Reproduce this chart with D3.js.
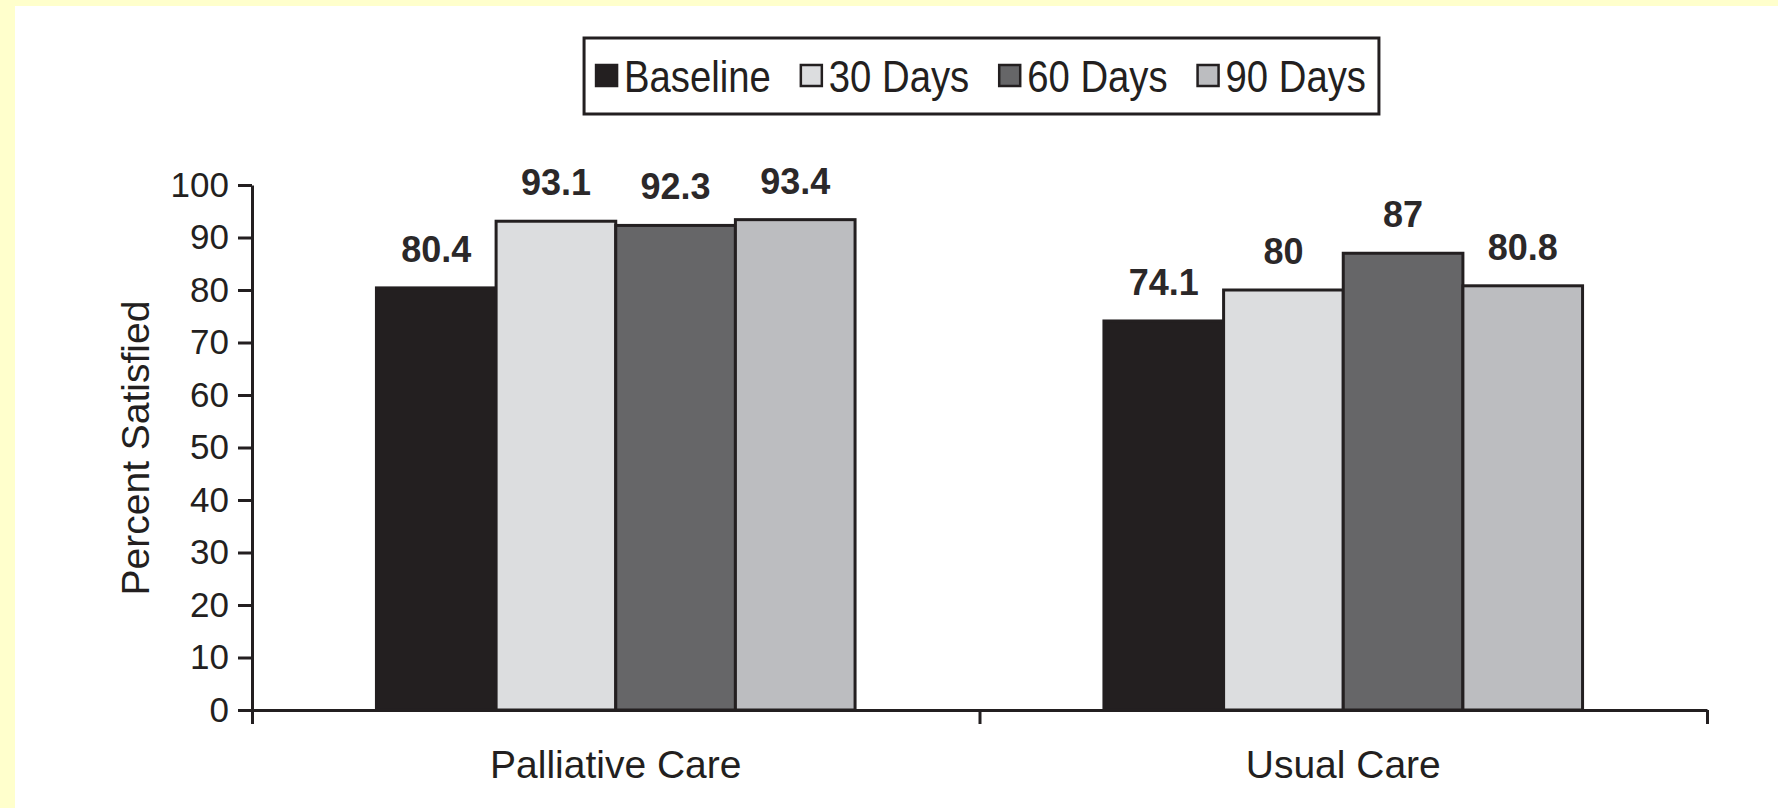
<!DOCTYPE html>
<html>
<head>
<meta charset="utf-8">
<script src="https://cdn.jsdelivr.net/npm/d3@7"></script>
<style>
  html, body { margin: 0; padding: 0; background: #ffffcc; }
  svg { display: block; }
  text { font-family: "Liberation Sans", Arial, Helvetica, sans-serif; fill: #231f20; }
</style>
</head>
<body>
<div id="chart"></div>
<script>
// Chart data
var GROUPS = ['Palliative Care', 'Usual Care'];
var SERIES = ['Baseline', '30 Days', '60 Days', '90 Days'];
var BASELINE = [80.4, 74.1];
var DAYS_30 = [93.1, 80];
var DAYS_60 = [92.3, 87];
var DAYS_90 = [93.4, 80.8];
var Y_TICKS = [0, 10, 20, 30, 40, 50, 60, 70, 80, 90, 100];

var SERIES_VALUES = [BASELINE, DAYS_30, DAYS_60, DAYS_90];
var COLORS = ['#231f20', '#dcdddf', '#666668', '#bcbdc0'];

var WIDTH = 1778, HEIGHT = 808;
var PLOT = { left: 252, right: 1707, top: 185, bottom: 710 };

var svg = d3.select('#chart').append('svg')
  .attr('width', WIDTH)
  .attr('height', HEIGHT);

// White page inside the yellow frame
svg.append('rect')
  .attr('x', 15).attr('y', 6)
  .attr('width', WIDTH - 15).attr('height', HEIGHT - 6)
  .attr('fill', '#ffffff');

var x0 = d3.scaleBand()
  .domain(GROUPS)
  .range([PLOT.left, PLOT.right])
  .padding(0);

var x1 = d3.scaleBand()
  .domain(SERIES)
  .range([0, x0.bandwidth()])
  .paddingInner(0)
  .paddingOuter(1.04);

var y = d3.scaleLinear()
  .domain([0, 100])
  .range([PLOT.bottom, PLOT.top]);

// Rows of the grouped data
var rows = [];
GROUPS.forEach(function(g, gi) {
  SERIES.forEach(function(s, si) {
    rows.push({ group: g, series: s, index: si, value: SERIES_VALUES[si][gi] });
  });
});

// Bars
svg.append('g').selectAll('rect')
  .data(rows)
  .join('rect')
  .attr('x', function(d) { return x0(d.group) + x1(d.series); })
  .attr('y', function(d) { return y(d.value); })
  .attr('width', x1.bandwidth())
  .attr('height', function(d) { return y(0) - y(d.value); })
  .attr('fill', function(d) { return COLORS[d.index]; })
  .attr('stroke', '#231f20')
  .attr('stroke-width', 3);

// Value labels
svg.append('g').selectAll('text')
  .data(rows)
  .join('text')
  .attr('x', function(d) { return x0(d.group) + x1(d.series) + x1.bandwidth() / 2; })
  .attr('y', function(d) { return y(d.value) - 26; })
  .attr('text-anchor', 'middle')
  .style('font-size', '36px')
  .style('font-weight', 'bold')
  .style('fill', '#2b2829')
  .text(function(d) { return d.value; });

// Y axis
var yAxis = svg.append('g')
  .attr('transform', 'translate(' + PLOT.left + ',0)')
  .call(d3.axisLeft(y).tickValues(Y_TICKS).tickSize(14).tickSizeOuter(0).tickPadding(9));
yAxis.select('.domain').attr('stroke', '#231f20').attr('stroke-width', 3);
yAxis.selectAll('.tick line').attr('stroke', '#231f20').attr('stroke-width', 3);
yAxis.selectAll('.tick text')
  .style('font-size', '35px')
  .style('fill', '#231f20')
  .attr('font-family', null);

// X axis with ticks at group boundaries
var xEdges = d3.scaleLinear().domain([0, GROUPS.length]).range([PLOT.left, PLOT.right]);
var xAxis = svg.append('g')
  .attr('transform', 'translate(0,' + PLOT.bottom + ')')
  .call(d3.axisBottom(xEdges).tickValues(d3.range(GROUPS.length + 1))
    .tickSize(14).tickSizeOuter(0).tickFormat(''));
xAxis.select('.domain').attr('stroke', '#231f20').attr('stroke-width', 3);
xAxis.selectAll('.tick line').attr('stroke', '#231f20').attr('stroke-width', 3);

// Category labels
var xLabels = svg.append('g')
  .attr('transform', 'translate(0,' + PLOT.bottom + ')')
  .call(d3.axisBottom(x0).tickSize(0).tickPadding(40));
xLabels.select('.domain').remove();
xLabels.selectAll('.tick text')
  .style('font-size', '39px')
  .style('fill', '#231f20')
  .attr('font-family', null);

// Y axis title
svg.append('text')
  .attr('transform', 'translate(149,448) rotate(-90)')
  .attr('text-anchor', 'middle')
  .style('font-size', '39px')
  .text('Percent Satisfied');

// Legend (condensed type, as in the original)
var LEGEND_SQUEEZE = 0.87;
var LEGEND_GAP = 30;
var legend = svg.append('g');
var items = legend.selectAll('g')
  .data(SERIES)
  .join('g');
items.append('rect')
  .attr('width', 21).attr('height', 21)
  .attr('y', -11)
  .attr('fill', function(d, i) { return COLORS[i]; })
  .attr('stroke', '#231f20')
  .attr('stroke-width', 2.5);
items.append('text')
  .attr('transform', 'translate(28,16) scale(' + LEGEND_SQUEEZE + ',1)')
  .style('font-size', '44px')
  .text(function(d) { return d; });

var cursor = 0;
items.each(function() {
  var t = d3.select(this).select('text').node();
  var w = 28 + t.getComputedTextLength() * LEGEND_SQUEEZE;
  d3.select(this).attr('transform', 'translate(' + cursor + ',0)');
  cursor += w + LEGEND_GAP;
});
var legendWidth = cursor - LEGEND_GAP;
var legendLeft = 981 - legendWidth / 2;
legend.attr('transform', 'translate(' + legendLeft + ',76)');
svg.insert('rect', 'g')
  .attr('x', legendLeft - 12)
  .attr('y', 38)
  .attr('width', legendWidth + 25)
  .attr('height', 76)
  .attr('fill', '#ffffff')
  .attr('stroke', '#231f20')
  .attr('stroke-width', 3);
</script>
</body>
</html>
